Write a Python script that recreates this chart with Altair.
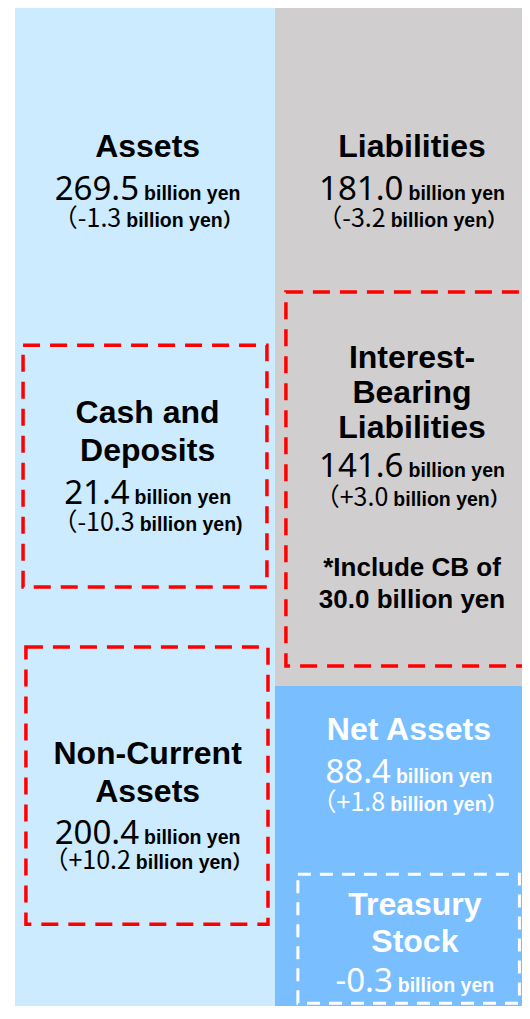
import altair as alt
import pandas as pd

# ---------------- values (billion yen) ----------------
block_names = ["Assets", "Liabilities", "Net Assets"]
assets_total = 269.5
liabilities_total = 181.0
net_assets_total = 88.4
block_colors = ["#CCEBFF", "#D0CECF", "#79BEFF"]

# value lines: number part, change part
value_numbers = ["269.5", "181.0", "141.6", "21.4", "200.4", "88.4", "-0.3"]
change_numbers = ["（-1.3", "（-3.2", "（+3.0", "（-10.3", "（+10.2", "（+1.8"]
change_units = ["billion yen）", "billion yen）", "billion yen）", "billion yen)", "billion yen）", "billion yen）"]
unit_text = "billion yen"

title_texts = ["Assets", "Liabilities", "Interest-", "Bearing", "Liabilities",
               "Cash and", "Deposits", "Non-Current", "Assets", "Net Assets",
               "Treasury", "Stock"]
note_texts = ["*Include CB of", "30.0 billion yen"]

# ---------------- layout (x: column units, y: billion-yen scale) ----------------
W, H = 514, 998
PX_PER_X = 260.0
PX_PER_Y = 1014 / assets_total
X_DOMAIN = [-7 / PX_PER_X, (W - 7) / PX_PER_X]
Y_DOMAIN = [3 / PX_PER_Y, (H + 3) / PX_PER_Y]

block_x0 = [0.0, 1.0, 1.0]
block_x1 = [1.0, 2.1, 2.1]
block_y0 = [0.0, 0.0, liabilities_total]
block_y1 = [assets_total, liabilities_total, liabilities_total + net_assets_total]

# dashed frames
red_x0 = [0.031, 1.042, 0.042]
red_x1 = [0.969, 2.2, 0.973]
red_y0 = [90.4, 76.3, 170.6]
red_y1 = [154.7, 175.7, 244.3]
white_x0 = [1.088]
white_x1 = [1.940]
white_y0 = [231.0]
white_y1 = [265.3]

L, R, RN, RT = 0.51, 1.527, 1.515, 1.538
BLACK, WHITE = "#000000", "#FFFFFF"

title_x = [L, R, R, R, R, L, L, L, L, RN, RT, RT]
title_y = [37.74, 37.74, 93.82, 103.12, 112.43, 108.44, 118.54, 199.07, 209.17, 192.69, 239.20, 249.04]
title_c = [BLACK] * 9 + [WHITE] * 3

note_x = [R, R]
note_y = [149.63, 158.14]

value_x = [L, R, R, L, L, RN, RT]
value_y = [48.64, 48.64, 122.26, 129.43, 219.80, 203.59, 259.13]
value_c = [BLACK] * 5 + [WHITE] * 2

change_x = [L, R, R, L, L, RN]
change_y = [56.61, 56.61, 130.76, 137.41, 227.24, 211.83]
change_c = [BLACK] * 5 + [WHITE]

NUM_SIZE, UNIT_SIZE, CH_SIZE, TITLE_SIZE, NOTE_SIZE = 33, 19.5, 25, 32, 26
GAP = 5

NUM_W = {**{d: 0.572 for d in "0123456789"}, ".": 0.268, "-": 0.322, "+": 0.572}
CJK_W = {**{d: 0.555 for d in "0123456789"}, ".": 0.277, "-": 0.343, "+": 0.555, "（": 1.0}
UNIT_W = {"b": .611, "i": .278, "l": .278, "o": .611, "n": .611, " ": .278,
          "y": .556, "e": .556, ")": .333, "）": 1.0}


def width(s, table, size):
    return sum(table.get(ch, 0.55) for ch in s) * size


def anchors(nums, units, xs, ntable, nsize):
    out = []
    for n, u, x in zip(nums, units, xs):
        wn = width(n, ntable, nsize)
        wu = width(u, UNIT_W, UNIT_SIZE)
        total = wn + GAP + wu
        out.append(x + (-total / 2 + wn) / PX_PER_X)
    return out


val_anchor = anchors(value_numbers, [unit_text] * len(value_numbers), value_x, NUM_W, NUM_SIZE)
ch_anchor = anchors(change_numbers, change_units, change_x, CJK_W, CH_SIZE)

# ---------------- tables ----------------
blocks = pd.DataFrame({"name": block_names, "x0": block_x0, "x1": block_x1,
                       "y0": block_y0, "y1": block_y1, "color": block_colors})
red = pd.DataFrame({"x0": red_x0, "x1": red_x1, "y0": red_y0, "y1": red_y1})
white = pd.DataFrame({"x0": white_x0, "x1": white_x1, "y0": white_y0, "y1": white_y1})
titles = pd.DataFrame({"label": title_texts, "x": title_x, "y": title_y, "color": title_c})
notes = pd.DataFrame({"label": note_texts, "x": note_x, "y": note_y, "color": [BLACK, BLACK]})
vnum = pd.DataFrame({"label": value_numbers, "x": val_anchor, "y": value_y, "color": value_c})
vunit = pd.DataFrame({"label": [unit_text] * len(value_numbers), "x": val_anchor, "y": value_y, "color": value_c})
cnum = pd.DataFrame({"label": change_numbers, "x": ch_anchor, "y": change_y, "color": change_c})
cunit = pd.DataFrame({"label": change_units, "x": ch_anchor, "y": change_y, "color": change_c})

xs = alt.Scale(domain=X_DOMAIN, nice=False, zero=False)
ys = alt.Scale(domain=Y_DOMAIN, nice=False, zero=False, reverse=True)


def rect_enc(base):
    return base.encode(
        x=alt.X("x0:Q", scale=xs, axis=None),
        x2="x1:Q",
        y=alt.Y("y0:Q", scale=ys, axis=None),
        y2="y1:Q",
    )


block_layer = rect_enc(alt.Chart(blocks).mark_rect(strokeWidth=0)).encode(
    color=alt.Color("color:N", scale=None))
red_layer = rect_enc(alt.Chart(red).mark_rect(filled=False, color="#FF0000", strokeWidth=3.5,
                                               strokeDash=[17, 10]))
white_layer = rect_enc(alt.Chart(white).mark_rect(filled=False, color="#FFFFFF", strokeWidth=3,
                                                   strokeDash=[13, 9]))

ARIAL = "Liberation Sans, Arial, Noto Sans CJK JP, sans-serif"


def text_layer(df, **kw):
    return alt.Chart(df).mark_text(**kw).encode(
        x=alt.X("x:Q", scale=xs, axis=None),
        y=alt.Y("y:Q", scale=ys, axis=None),
        text="label:N",
        color=alt.Color("color:N", scale=None),
    )


t_title = text_layer(titles, font=ARIAL, fontSize=TITLE_SIZE, fontWeight="bold",
                     align="center", baseline="middle")
t_note = text_layer(notes, font=ARIAL, fontSize=NOTE_SIZE, fontWeight="bold",
                    align="center", baseline="middle")
t_vnum = text_layer(vnum, font="Noto Sans, sans-serif", fontSize=NUM_SIZE,
                    align="right", baseline="alphabetic", dy=12)
t_vunit = text_layer(vunit, font=ARIAL, fontSize=UNIT_SIZE, fontWeight="bold",
                     align="left", baseline="alphabetic", dx=GAP, dy=12)
t_cnum = text_layer(cnum, font="Noto Sans CJK JP, sans-serif", fontSize=CH_SIZE,
                    align="right", baseline="alphabetic", dy=9)
t_cunit = text_layer(cunit, font=ARIAL, fontSize=UNIT_SIZE, fontWeight="bold",
                     align="left", baseline="alphabetic", dx=GAP, dy=9)

chart = alt.layer(block_layer, red_layer, white_layer, t_title, t_note,
                  t_vnum, t_vunit, t_cnum, t_cunit).properties(
    width=W, height=H, padding=0, autosize="none"
).configure_view(stroke=None)

chart.save("out.html", embed_options={"renderer": "svg", "actions": False})
